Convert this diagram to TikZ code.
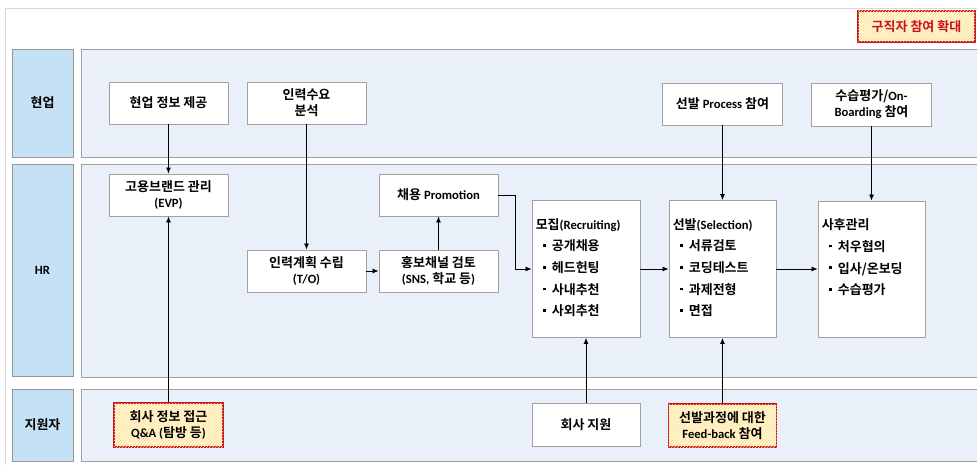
\documentclass[tikz,border=0pt]{standalone}
\usepackage{fontspec}
\setmainfont{Noto Sans CJK KR}[BoldFont={Noto Sans CJK KR Bold}]
\newfontfamily\latfont{Carlito}[Scale=0.97]
\newcommand{\latn}[1]{{\latfont\bfseries #1}}
\usetikzlibrary{arrows.meta,patterns}

\definecolor{lanefill}{RGB}{197,225,245}
\definecolor{panelfill}{RGB}{233,240,249}
\definecolor{boxline}{RGB}{160,160,160}
\definecolor{laneline}{RGB}{150,150,150}
\definecolor{framegray}{RGB}{215,215,215}
\definecolor{accentred}{RGB}{200,16,30}
\definecolor{hatchbase}{RGB}{255,246,214}
\definecolor{hatchline}{RGB}{255,226,150}

\tikzset{
  lanebox/.style={draw=laneline, line width=0.9pt, fill=lanefill, inner sep=0pt,
    font=\fontsize{13}{15}\selectfont\bfseries},
  panel/.style={draw=boxline, line width=0.9pt, fill=panelfill},
  stepbox/.style={draw=boxline, line width=0.9pt, fill=white, inner sep=0pt,
    align=center, minimum width=119pt, minimum height=42pt,
    font=\fontsize{13}{16}\selectfont\bfseries},
  listbox/.style={draw=boxline, line width=0.9pt, fill=white, inner sep=0pt},
  listtext/.style={inner sep=0pt, align=left, anchor=north west,
    font=\fontsize{13}{21.7}\selectfont\bfseries},
  hotbox/.style={stepbox, draw=accentred, line width=1.3pt, fill=hatchbase,
    postaction={pattern=north east lines, pattern color=hatchline}},
  flow/.style={line width=0.8pt, -{Latex[length=6pt,width=5pt]}}
}
% list item: small square dot, then the entry
\newcommand{\itm}{\hspace*{7.5pt}\rule[4pt]{2.6pt}{2.6pt}\hspace*{6pt}}

\begin{document}
\begin{tikzpicture}[x=1pt,y=-1pt]
\clip (0,0) rectangle (977,465);
\fill[white] (0,0) rectangle (977,465);

% outer frame
\draw[framegray, line width=1pt] (5,470) -- (5,9) -- (990,9);

% lane headers
\node[lanebox, minimum width=61pt, minimum height=108pt] (laneA) at (42.5,103) {현업};
\node[lanebox, minimum width=61pt, minimum height=212pt] (laneB) at (42.5,270.5) {\latn{HR}};
\node[lanebox, minimum width=61pt, minimum height=72pt] (laneC) at (42.5,425) {지원자};

% lane panels
\draw[panel] (81,49) rectangle (995,157);
\draw[panel] (81,164) rectangle (995,377);
\draw[panel] (81,389) rectangle (995,461);

% tag in the upper right corner
\node[hotbox, minimum width=117pt, minimum height=31pt, text=accentred] (expand) at (916.5,26.5) {구직자 참여 확대};

% 현업 row
\node[stepbox] (info) at (168.5,103) {현업 정보 제공};
\node[stepbox] (demand) at (306.5,103) {인력수요\\분석};
\node[stepbox, minimum width=120pt] (selproc) at (722.5,104) {선발 \latn{Process} 참여};
\node[stepbox, minimum width=120pt, minimum height=43pt] (onboard) at (871.5,104.5) {수습평가/\latn{On-}\\\latn{Boarding} 참여};

% HR row
\node[stepbox] (evp) at (168.5,195) {고용브랜드 관리\\\latn{(EVP)}};
\node[stepbox] (promo) at (438.5,195) {채용 \latn{Promotion}};
\node[stepbox] (plan) at (306.5,271) {인력계획 수립\\\latn{(T/O)}};
\node[stepbox] (channel) at (438.5,271) {홍보채널 검토\\\latn{(SNS,} 학교 등\latn{)}};

\node[listbox, minimum width=108pt, minimum height=137pt] (recruit) at (586,269) {};
\node[listtext] (recruittxt) at ([xshift=4pt,yshift=-18pt]recruit.north west)
  {모집\latn{(Recruiting)}\\\itm 공개채용\\\itm 헤드헌팅\\\itm 사내추천\\\itm 사외추천};

\node[listbox, minimum width=107pt, minimum height=137pt] (select) at (722.5,269) {};
\node[listtext] (selecttxt) at ([xshift=4pt,yshift=-18pt]select.north west)
  {선발\latn{(Selection)}\\\itm 서류검토\\\itm 코딩테스트\\\itm 과제전형\\\itm 면접};

\node[listbox, minimum width=107pt, minimum height=136pt] (after) at (871.5,269) {};
\node[listtext] (aftertxt) at ([xshift=4pt,yshift=-18pt]after.north west)
  {사후관리\\\itm 처우협의\\\itm 입사/온보딩\\\itm 수습평가};

% 지원자 row
\node[hotbox, minimum width=109pt, minimum height=44pt] (qa) at (168.5,425) {회사 정보 접근\\\latn{Q\&A (}탐방 등\latn{)}};
\node[stepbox, minimum width=108pt, minimum height=43pt] (apply) at (586,425) {회사 지원};
\node[hotbox, minimum width=108pt, minimum height=43pt] (feedback) at (722.5,425.5) {선발과정에 대한\\\latn{Feed-back} 참여};

% connectors
\draw[flow] (info) -- (evp);
\draw[flow] (demand) -- (plan);
\draw[flow] (plan) -- (channel);
\draw[flow] (channel) -- (promo);
\draw[flow] (promo.east) -- ++(17,0) |- (recruit.west);
\draw[flow] (recruit) -- (select);
\draw[flow] (select) -- (after);
\draw[flow] (selproc) -- (select);
\draw[flow] (onboard) -- (after);
\draw[flow] (qa) -- (evp);
\draw[flow] (apply) -- (recruit);
\draw[flow] (feedback) -- (select);
\end{tikzpicture}
\end{document}
